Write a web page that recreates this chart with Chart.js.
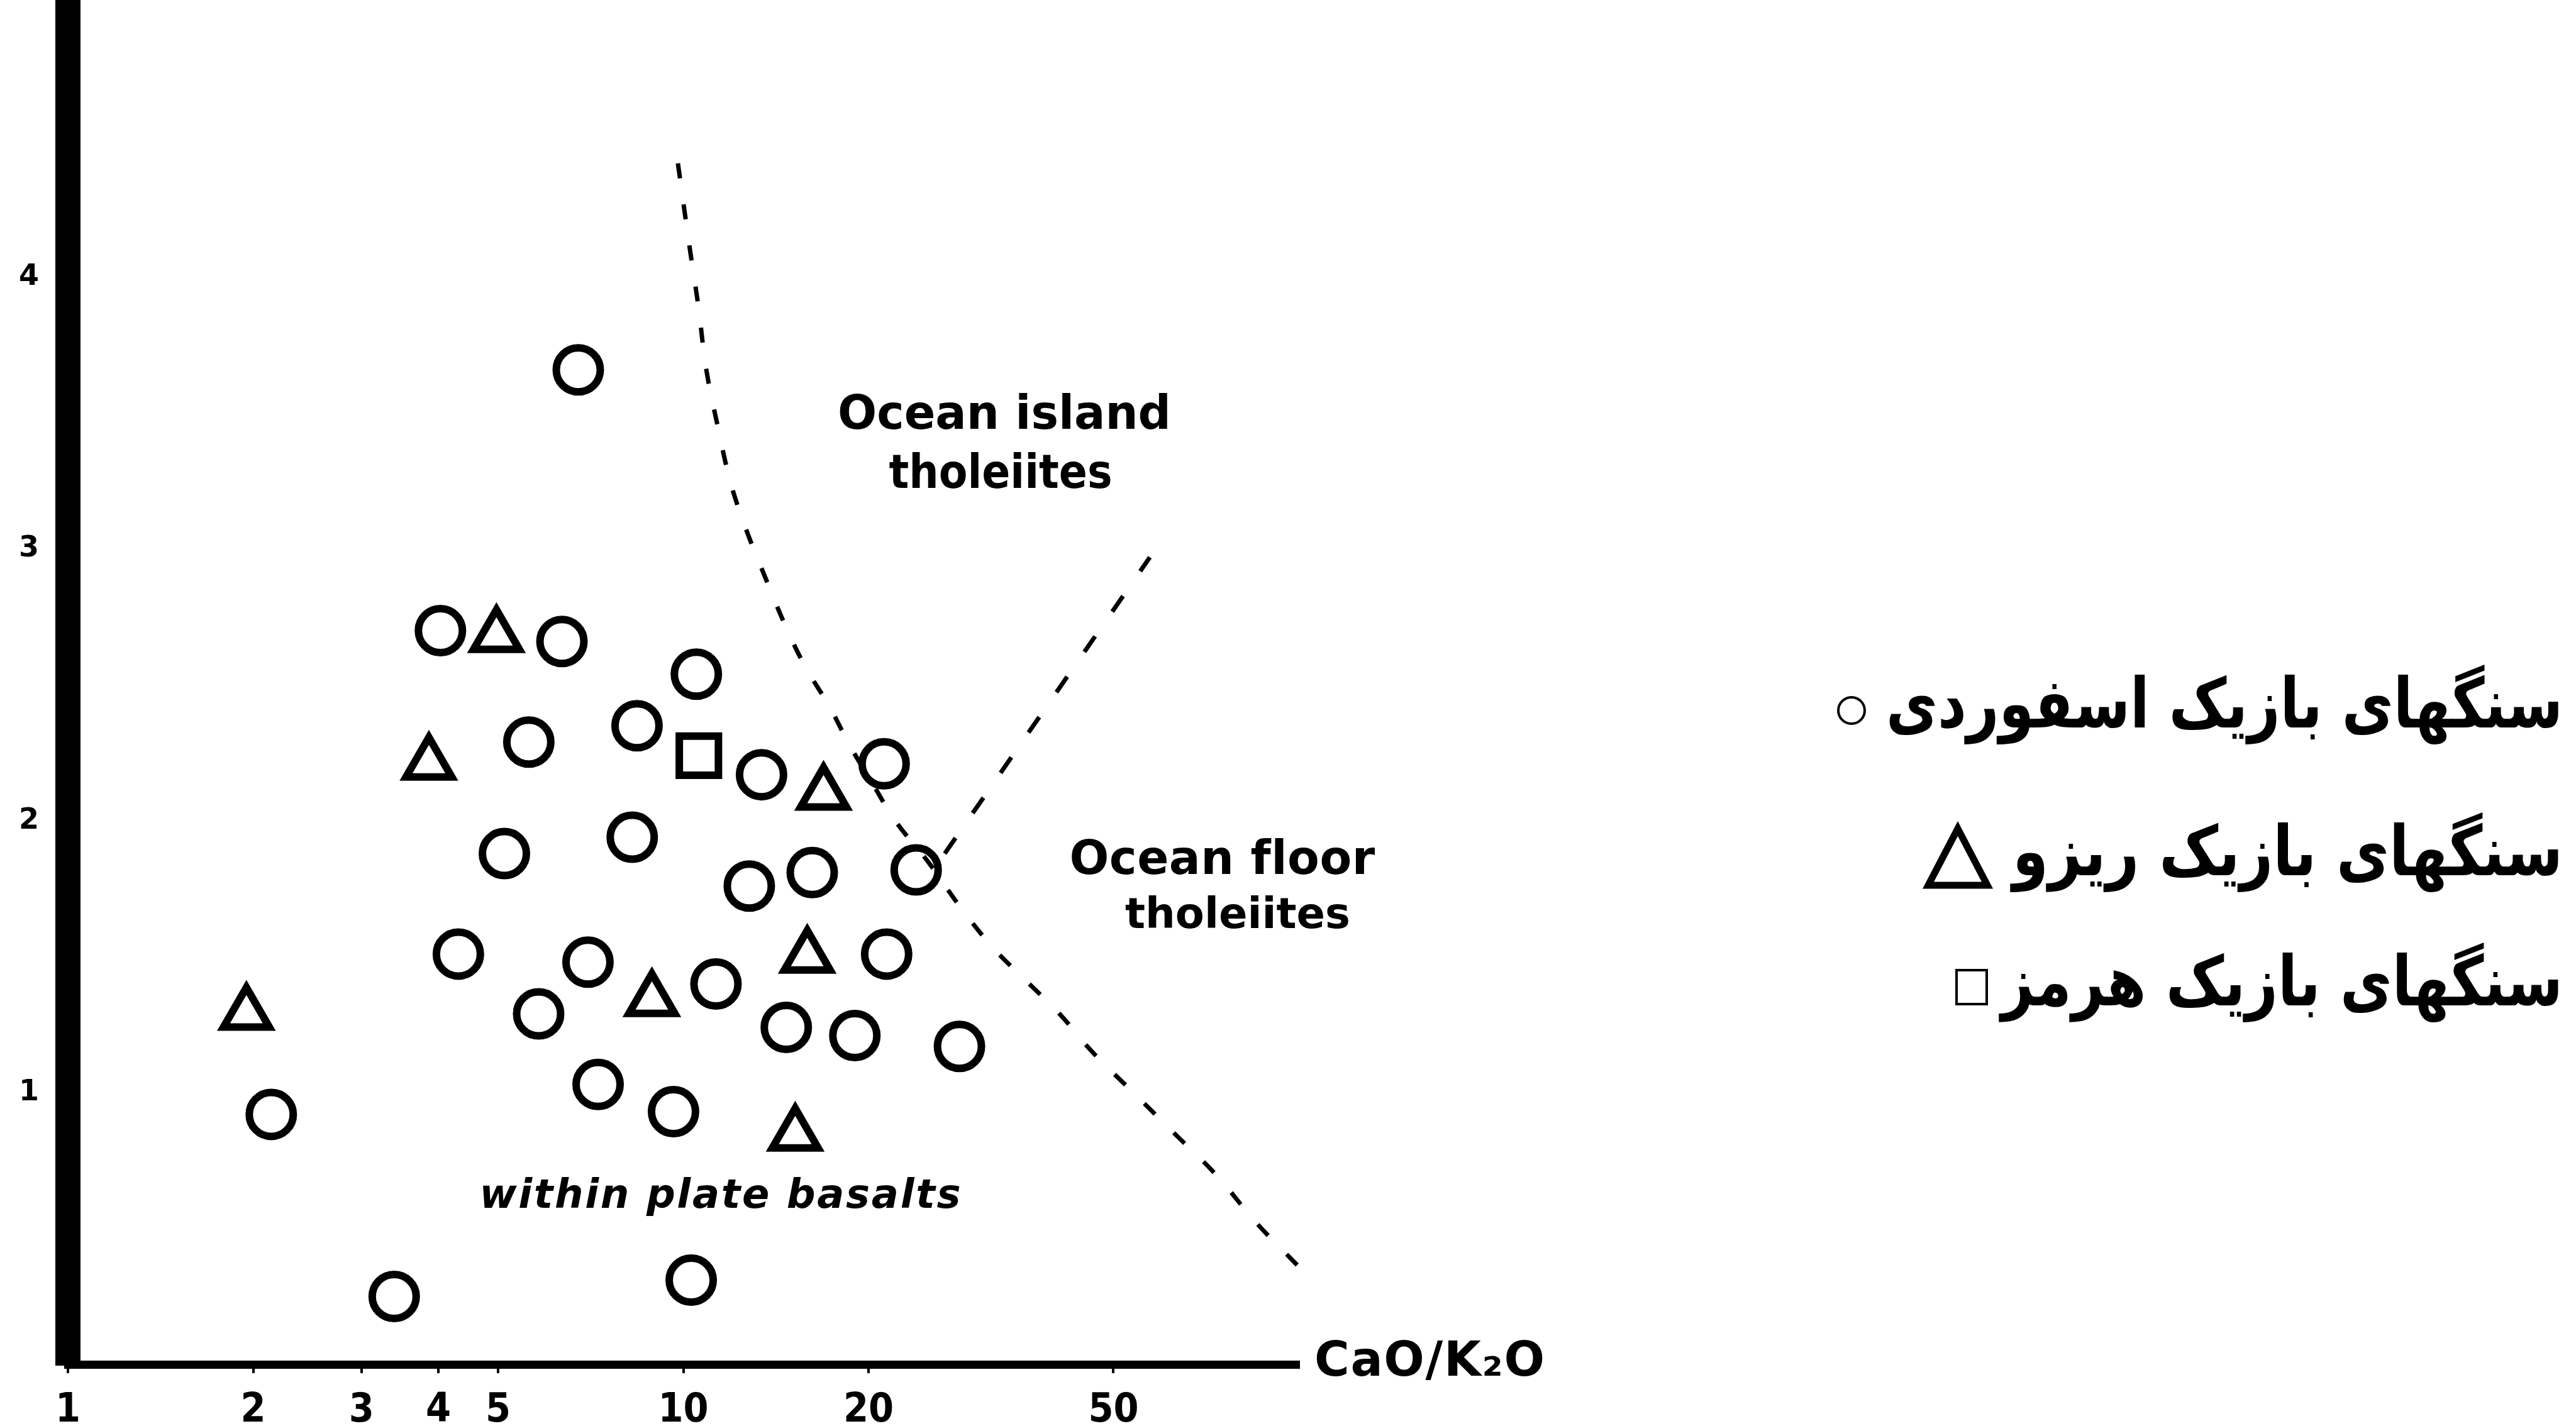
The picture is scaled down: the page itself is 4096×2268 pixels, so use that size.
<!DOCTYPE html>
<html>
<head>
<meta charset="utf-8">
<script src="https://cdn.jsdelivr.net/npm/chart.js@4.4.1/dist/chart.umd.min.js"></script>
<style>
html,body{margin:0;padding:0;background:#fff;}
#wrap{width:4096px;height:2268px;position:relative;overflow:hidden;}
canvas{display:block;}
</style>
</head>
<body>
<div id="wrap"><canvas id="c" width="4096" height="2268"></canvas></div>
<script>
// ---------- data ----------
// Esfordi basic rocks (circles): CaO/K2O (x, log) vs y
const esfordiX = [6.75, 4.03, 6.35, 10.5, 5.61, 8.41, 13.4, 21.2, 5.12, 8.26, 12.8, 16.2, 23.9, 4.31, 7.0, 11.3, 21.4, 5.82, 14.7, 19.0, 28.1, 7.27, 9.64, 2.14, 3.39, 10.3];
const esfordiY = [3.66, 2.70, 2.66, 2.54, 2.29, 2.35, 2.17, 2.21, 1.88, 1.94, 1.76, 1.81, 1.82, 1.51, 1.48, 1.40, 1.51, 1.29, 1.24, 1.21, 1.17, 1.03, 0.93, 0.92, 0.25, 0.31];
// Rizu basic rocks (triangles)
const rizuX = [4.97, 3.86, 16.9, 1.95, 8.89, 15.9, 15.2];
const rizuY = [2.68, 2.21, 2.10, 1.29, 1.34, 1.50, 0.845];
// Hormoz basic rocks (square)
const hormozX = [10.6];
const hormozY = [2.24];
// Boundary: within-plate / ocean island / ocean floor (curved dashed line)
const boundaryAX = [9.80, 10.24, 10.57, 10.90, 11.38, 11.95, 12.71, 13.51, 14.64, 15.76, 17.28, 18.72, 20.15, 22.10, 24.98, 28.25, 31.95, 36.13, 40.86, 46.19, 53.87, 62.81, 73.25, 85.42, 100];
const boundaryAY = [4.42, 4.11, 3.90, 3.66, 3.45, 3.24, 3.06, 2.91, 2.72, 2.57, 2.42, 2.27, 2.15, 2.00, 1.85, 1.68, 1.53, 1.41, 1.29, 1.15, 1.00, 0.85, 0.70, 0.52, 0.36];
// Boundary: ocean island / ocean floor (straight dashed line)
const boundaryBX = [26.6, 57.3];
const boundaryBY = [1.88, 2.97];
// Axis ticks
const xTickValues = [1, 2, 3, 4, 5, 10, 20, 50];
const xTickLabels = ['1', '2', '3', '4', '5', '10', '20', '50'];
const yTickValues = [1, 2, 3, 4];
const yTickLabels = ['1', '2', '3', '4'];
// Texts
const seriesNames = ['سنگهای بازیک اسفوردی', 'سنگهای بازیک ریزو', 'سنگهای بازیک هرمز'];
const fieldNames = ['Ocean island', 'tholeiites', 'Ocean floor', 'tholeiites', 'within plate basalts'];
const xAxisTitle = 'CaO/K\u2082O';

// ---------- build ----------
const toPts = (xs, ys) => xs.map((x, i) => ({ x: x, y: ys[i] }));

const W = 4096, H = 2268;
const AREA = { left: 108, right: 2065, top: 9, bottom: 2170 };

function fitText(ctx, txt, x, y, font, width, align) {
  ctx.save();
  ctx.font = font;
  ctx.fillStyle = '#000';
  ctx.textBaseline = 'middle';
  ctx.textAlign = 'left';
  const w0 = ctx.measureText(txt).width;
  let sx = 1, sp = 0;
  if (w0 > width) { sx = width / w0; }
  else if (txt.length > 1) { sp = (width - w0) / (txt.length - 1); }
  const left = align === 'left' ? x : x - width / 2;
  ctx.translate(left, y);
  ctx.scale(sx, 1);
  if (sp > 0) {
    let cx = 0;
    for (const ch of txt) { ctx.fillText(ch, cx, 0); cx += ctx.measureText(ch).width + sp; }
  } else {
    ctx.fillText(txt, 0, 0);
  }
  ctx.restore();
}

// right-to-left text squeezed/stretched to a given width, right edge at x
function fitRtl(ctx, txt, right, y, font, width) {
  ctx.save();
  ctx.font = font;
  ctx.fillStyle = '#000';
  ctx.direction = 'rtl';
  ctx.textAlign = 'right';
  ctx.textBaseline = 'middle';
  const w0 = ctx.measureText(txt).width;
  const sx = width / w0;
  ctx.translate(right, y);
  ctx.scale(sx, 1);
  ctx.fillText(txt, 0, 0);
  ctx.restore();
}

const bgPlugin = {
  id: 'bg',
  beforeDraw(chart) {
    const c = chart.ctx;
    c.save(); c.fillStyle = '#fff'; c.fillRect(0, 0, chart.width, chart.height); c.restore();
  }
};

const textPlugin = {
  id: 'texts',
  afterDraw(chart) {
    const ctx = chart.ctx;
    const f1 = 'bold 74px "DejaVu Sans"';
    fitText(ctx, fieldNames[0], 1597, 663, f1, 530, 'center');
    fitText(ctx, fieldNames[1], 1591, 757, f1, 355, 'center');
    fitText(ctx, fieldNames[2], 1942, 1371, f1, 483, 'center');
    fitText(ctx, fieldNames[3], 1968, 1458, 'bold 68px "DejaVu Sans"', 358, 'center');
    fitText(ctx, fieldNames[4], 1145, 1904, 'italic bold 64px "DejaVu Sans"', 765, 'center');
    fitText(ctx, xAxisTitle, 2090, 2168, 'bold 76px "DejaVu Sans"', 366, 'left');

    // legend (right side, RTL)
    const rightX = 4075;
    const rows = [1128, 1363, 1570];
    const widths = [1076, 875, 893];
    seriesNames.forEach((t, i) => fitRtl(ctx, t, rightX, rows[i], 'bold 110px "DejaVu Sans"', widths[i]));

    ctx.save();
    ctx.strokeStyle = '#000';
    // circle marker
    ctx.lineWidth = 4;
    ctx.beginPath(); ctx.arc(2944, 1130, 21, 0, Math.PI * 2); ctx.stroke();
    // triangle marker
    ctx.lineWidth = 11; ctx.lineJoin = 'miter';
    ctx.beginPath();
    ctx.moveTo(3113, 1318); ctx.lineTo(3160, 1408); ctx.lineTo(3066, 1408); ctx.closePath(); ctx.stroke();
    // square marker
    ctx.lineWidth = 4;
    ctx.strokeRect(3111, 1543, 48, 54);
    ctx.restore();
  }
};

const markerCommon = {
  showLine: false,
  borderColor: '#000',
  backgroundColor: 'rgba(0,0,0,0)',
  pointBorderColor: '#000',
  pointBackgroundColor: 'rgba(0,0,0,0)',
  pointBorderWidth: 12,
  pointHoverRadius: 0
};

const noPad = (s) => { s.paddingTop = 0; s.paddingBottom = 0; s.paddingLeft = 0; s.paddingRight = 0; };

const chart = new Chart(document.getElementById('c'), {
  type: 'scatter',
  data: {
    datasets: [
      Object.assign({ label: seriesNames[0], data: toPts(esfordiX, esfordiY), pointStyle: 'circle', pointRadius: 35 }, markerCommon),
      Object.assign({ label: seriesNames[1], data: toPts(rizuX, rizuY), pointStyle: 'triangle', pointRadius: 42 }, markerCommon),
      Object.assign({ label: seriesNames[2], data: toPts(hormozX, hormozY), pointStyle: 'rect', pointRadius: 44 }, markerCommon),
      {
        type: 'line', label: 'boundary A', data: toPts(boundaryAX, boundaryAY),
        borderColor: '#000', borderWidth: 7, borderDash: [24, 42], pointRadius: 0,
        tension: 0.35, fill: false, clip: false
      },
      {
        type: 'line', label: 'boundary B', data: toPts(boundaryBX, boundaryBY),
        borderColor: '#000', borderWidth: 7, borderDash: [30, 48], pointRadius: 0,
        tension: 0, fill: false, clip: false
      }
    ]
  },
  options: {
    responsive: false,
    animation: false,
    devicePixelRatio: 1,
    events: [],
    layout: { autoPadding: false, padding: { left: 0, top: AREA.top, right: W - AREA.right, bottom: 0 } },
    plugins: { legend: { display: false }, tooltip: { enabled: false } },
    scales: {
      x: {
        type: 'logarithmic', min: 1, max: 100,
        afterBuildTicks: (s) => { s.ticks = xTickValues.map(v => ({ value: v })); },
        afterFit: (s) => { s.height = H - AREA.bottom; noPad(s); },
        ticks: {
          autoSkip: false, maxRotation: 0, minRotation: 0, padding: 22, color: '#000',
          font: { family: '"DejaVu Sans Condensed", "DejaVu Sans"', size: 64, weight: 'bold' },
          callback: (v) => { const i = xTickValues.indexOf(v); return i >= 0 ? xTickLabels[i] : ''; }
        },
        grid: { display: true, drawOnChartArea: false, drawTicks: true, tickLength: 14, color: '#000', lineWidth: 4 },
        border: { display: true, color: '#000', width: 13 }
      },
      y: {
        type: 'linear', min: 0, max: 5,
        afterBuildTicks: (s) => { s.ticks = yTickValues.map(v => ({ value: v })); },
        afterFit: (s) => { s.width = AREA.left; noPad(s); },
        ticks: {
          autoSkip: false, padding: 36, color: '#000',
          font: { family: '"DejaVu Sans"', size: 46, weight: 'bold' },
          callback: (v) => { const i = yTickValues.indexOf(v); return i >= 0 ? yTickLabels[i] : ''; }
        },
        grid: { display: true, drawOnChartArea: false, drawTicks: true, tickLength: 10, color: '#000', lineWidth: 4 },
        border: { display: true, color: '#000', width: 40 }
      }
    }
  },
  plugins: [bgPlugin, textPlugin]
});
</script>
</body>
</html>
